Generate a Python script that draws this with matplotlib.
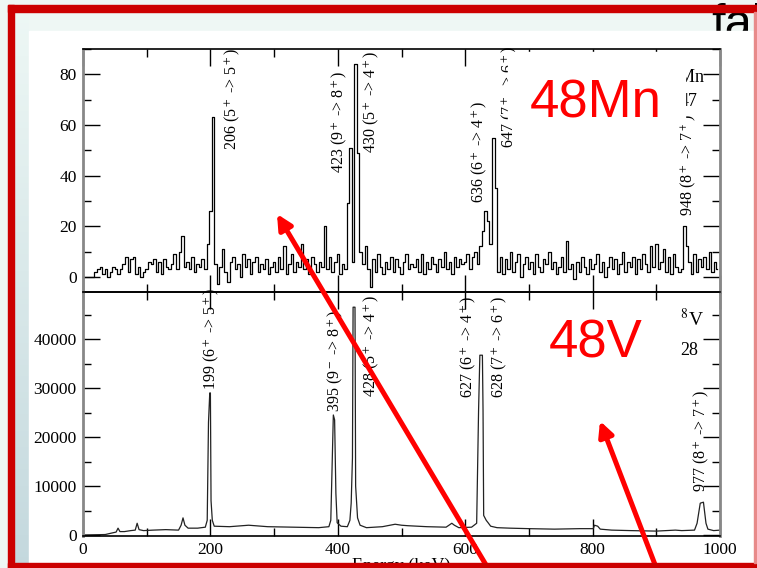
import numpy as np
import matplotlib.pyplot as plt
from matplotlib.patches import Rectangle
from matplotlib.ticker import MultipleLocator

plt.rcParams['font.family'] = ['Liberation Serif', 'DejaVu Serif']
plt.rcParams['mathtext.fontset'] = 'stix'

W, H = 757, 568

# 48Mn spectrum (top panel), 4 keV bins starting at 0 keV
mn_bin0 = 0
mn_binw = 4
mn_counts = [
    0, 0, 0, 0, 0,
    2, 3, 4, 1, 3, 0, 2, 4, 3, 1,
    3, 5, 8, 2, 7, 8, 1, 4, 0, 2,
    3, 6, 5, 7, 2, 6, 1, 7, 4, 3,
    5, 9, 3, 10, 16,
    4, 6, 3, 8, 2, 5, 4, 7, 3, 13,
    26, 63, 5,
    -3, 4, 11, 2, -2, 6, 8, 3, 5, 0, 9, 4, 7, 1, 6, 8, 2, 5, 3, 7, 1, 4,
    6, 2, 8, 3, 12, 1, 5, 9, 2, 6, 4, 13, 3, 7, 1, 8, 5, 2, 6, 4,
    20,
    3, 8, 2, 6, 9, 1, 5, 3,
    29, 51, 6, 84, 49, 10,
    5, 12, 3, -4, 7, 2, 9, 4, 1, 6, 3, 8, 2, 7, 4, 1, 6, 9, 3, 5,
    4, 7, 2, 9, 1, 6, 3, 8, 5, 2, 7, 4, 10, 3, 6, 1, 8, 4, 7, 5,
    6, 9, 3, 8, 10, 5, 12,
    18, 26, 22, 13, 55, 35, 2,
    8, 1, 7, 3, 10, 2, 6, 9, 0, 5, 8, 3, 6, 1, 9, 4, 2, 7, 5, 10, 3, 6, 1, 4, 8, 2,
    14,
    3, 5, -1, 6, 2, 8, 4, 1, 7, 3, 5, 9, 2, 6, 0, 4, 8, 3, 7, 1, 5, 10, 2, 6, 4, 8,
    1, 7, 3, 9, 5, 2, 12, 4,
    13, 3, 6, 11, 2, 8, 1, 9, 4, 2, 3,
    20, 12, 6,
    1, 9, 2, 7, 4, 8, 3, 10, 2, 6, 3,
]

# 48V spectrum (bottom panel)
v_energy = [0, 35, 45, 52, 55, 58, 65, 75, 82, 85, 88, 95, 110, 130, 150, 154, 157,
            160, 165, 180, 192, 195, 197, 199, 200, 201, 203, 206, 230, 260, 290,
            330, 370, 386, 389, 391, 393, 395, 397, 399, 405, 415, 419, 421, 423,
            424, 427, 428, 431, 435, 445, 470, 490, 500, 510, 540, 570, 579, 583,
            590, 610, 618, 621, 623, 627, 628, 629, 633, 636, 640, 650, 670, 700,
            740, 780, 801, 803, 808, 812, 830, 860, 900, 930, 940, 960, 964, 969,
            974, 978, 981, 990, 1000]
v_counts = [0, 100, 400, 600, 1400, 700, 700, 900, 1000, 2400, 1100, 900, 1000, 1100,
            1000, 2000, 3500, 2000, 1400, 1400, 1600, 3000, 23000, 29000, 29000, 7000,
            3000, 1800, 1700, 2000, 1700, 1600, 1500, 1700, 3000, 13700, 24500, 23500,
            8500, 2500, 1800, 1700, 3000, 6500, 15700, 46500, 46500, 10000, 3500, 2000,
            1500, 1700, 2200, 2000, 1900, 1700, 1600, 2400, 2000, 1500, 1600, 2400,
            25500, 36700, 36700, 25500, 4000, 3000, 2500, 1800, 1500, 1400, 1300, 1200,
            1300, 1300, 2000, 1800, 1200, 1000, 900, 800, 1000, 900, 1000, 2400, 6500,
            6700, 2400, 1200, 900, 1000]

mn_labels = ['206 (5$^+$ -> 5$^+$)', '423 (9$^+$ -> 8$^+$)', '430 (5$^+$ -> 4$^+$)',
             '636 (6$^+$ -> 4$^+$)', '647 (7$^+$ -> 6$^+$)', '948 (8$^+$ -> 7$^+$)']
mn_label_e = [235, 403, 453, 623, 670, 950]
mn_label_c = [50, 41, 49, 29, 51, 24]

v_labels = ['199 (6$^+$ -> 5$^+$)', '395 (9$^-$ -> 8$^+$)', '428 (5$^+$ -> 4$^+$)',
            '627 (6$^+$ -> 4$^+$)', '628 (7$^+$ -> 6$^+$)', '977 (8$^+$ -> 7$^+$)']
v_label_e = [202, 396, 453, 605, 653, 971]
v_label_c = [29600, 25100, 28200, 28000, 28000, 8800]

fig = plt.figure(figsize=(W / 100, H / 100), dpi=100)

# slide background
bg = fig.add_axes([0, 0, 1, 1], zorder=-10)
bg.axis('off')
bg.add_patch(Rectangle((0, 0), W, H, color='#eef7f4', zorder=0))
grad = np.linspace(0, 1, 100)[:, None, None]
top_c = np.array([0.93, 0.97, 0.96])
bot_c = np.array([0.77, 0.85, 0.87])
bg.imshow(top_c + grad * (bot_c - top_c), extent=(14, 29, 563, 12),
          aspect='auto', zorder=1)
bg.text(711, 38, 'fal', fontsize=35, family='Liberation Sans', zorder=2)
bg.add_patch(Rectangle((29, 31), 725, 540, color='white', zorder=3))
bg.set_xlim(0, W)
bg.set_ylim(H, 0)


def style(ax):
    ax.set_facecolor('none')
    ax.set_xlim(0, 1000)
    ax.xaxis.set_major_locator(MultipleLocator(200))
    ax.xaxis.set_minor_locator(MultipleLocator(100))
    ax.tick_params(which='both', direction='in', top=True, right=True,
                   labelsize=12.5, pad=4.5)
    ax.tick_params(which='major', length=12, width=1)
    ax.tick_params(which='minor', length=6, width=1)
    for s in ('left', 'right'):
        ax.spines[s].set_color('#888888')
        ax.spines[s].set_linewidth(2)
    for s in ('top', 'bottom'):
        ax.spines[s].set_linewidth(1.2)


x0, x1 = 83 / W, 637 / W
ax1 = fig.add_axes([x0, 1 - 292 / H, x1, 243 / H])
ax2 = fig.add_axes([x0, 1 - 536 / H, x1, 244 / H])

mn_energy = mn_bin0 + mn_binw * np.arange(len(mn_counts))
ax1.step(mn_energy, mn_counts, where='mid', color='black', lw=0.9)
style(ax1)
ax1.set_ylim(-6, 90)
ax1.yaxis.set_major_locator(MultipleLocator(20))
ax1.yaxis.set_minor_locator(MultipleLocator(10))
ax1.tick_params(labelbottom=False)
for lab, e, c in zip(mn_labels, mn_label_e, mn_label_c):
    ax1.text(e, c, lab, rotation=90, ha='center', va='bottom', fontsize=11.5)

ax2.plot(v_energy, v_counts, color='#222222', lw=0.9)
style(ax2)
ax2.set_ylim(-200, 49600)
ax2.yaxis.set_major_locator(MultipleLocator(10000))
ax2.yaxis.set_minor_locator(MultipleLocator(5000))
for lab, e, c in zip(v_labels, v_label_e, v_label_c):
    ax2.text(e, c, lab, rotation=90, ha='center', va='bottom', fontsize=11.5)

# slide overlay: red notes, arrows and frame
ov = fig.add_axes([0, 0, 1, 1], zorder=10)
ov.axis('off')
ov.set_xlim(0, W)
ov.set_ylim(H, 0)
ov.text(705, 82, '$^{48}$Mn', ha='right', va='baseline', fontsize=13, zorder=1)
ov.text(698, 106, '47', ha='right', va='baseline', fontsize=13, zorder=1)
ov.text(680, 326, '$^{8}$V', ha='left', va='baseline', fontsize=14, zorder=1)
ov.text(680, 355, '28', ha='left', va='baseline', fontsize=13, zorder=1)
ov.text(401, 558, 'Energy (keV)', ha='center', va='top', fontsize=13, zorder=1)
ov.add_patch(Rectangle((508, 52), 177, 72, color='white', zorder=2))
ov.text(530, 117, '48Mn', color='red', fontsize=38, family='Liberation Sans', zorder=3)
ov.text(549, 358, '48V', color='red', fontsize=38, family='Liberation Sans', zorder=3)
arrow = dict(arrowstyle='-|>', color='red', lw=3.6, mutation_scale=22, shrinkA=0, shrinkB=0)
ov.annotate('', xy=(277, 214), xytext=(492, 575), arrowprops=arrow, zorder=4)
ov.annotate('', xy=(600, 421), xytext=(659, 575), arrowprops=arrow, zorder=4)
red = '#cc0000'
ov.add_patch(Rectangle((8, 5), W, 7, color=red, zorder=5))
ov.add_patch(Rectangle((8, 5), 6, H, color=red, zorder=5))
ov.add_patch(Rectangle((8, 563), W, 6, color=red, zorder=5))
ov.add_patch(Rectangle((754, 12), 2, 551, color='#e88a8a', zorder=5))

fig.savefig('out.png', dpi=100)
